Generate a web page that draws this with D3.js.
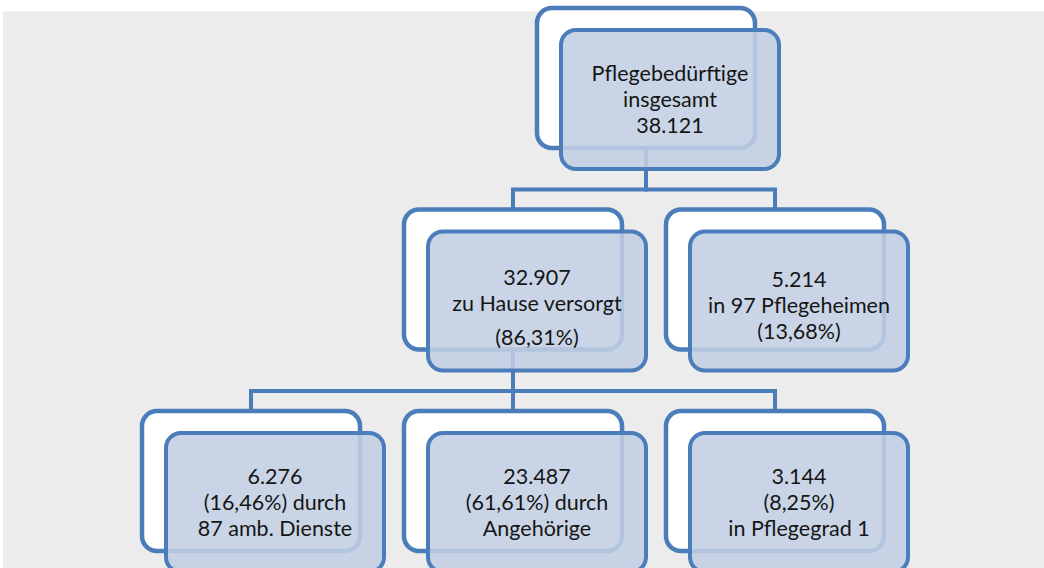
<!DOCTYPE html>
<html>
<head>
<meta charset="utf-8">
<script src="https://cdn.jsdelivr.net/npm/d3@7"></script>
<style>
  html, body { margin: 0; padding: 0; background: #ffffff; }
  svg { display: block; }
</style>
</head>
<body>
<svg id="chart" width="1044" height="568"></svg>
<script>
// Pflegebedürftige: totals and breakdown by type of care
const nodeIds   = ["gesamt", "zuhause", "heime", "amb", "angeh", "pg1"];
const parentIds = [null, "gesamt", "gesamt", "zuhause", "zuhause", "zuhause"];
const values    = [38121, 32907, 5214, 6276, 23487, 3144];
const shares    = [null, 86.31, 13.68, 16.46, 61.61, 8.25];
const labelLines = [
  ["Pflegebedürftige", "insgesamt", "38.121"],
  ["32.907", "zu Hause versorgt", "(86,31%)"],
  ["5.214", "in 97 Pflegeheimen", "(13,68%)"],
  ["6.276", "(16,46%) durch", "87 amb. Dienste"],
  ["23.487", "(61,61%) durch", "Angehörige"],
  ["3.144", "(8,25%)", "in Pflegegrad 1"]
];

const rows = nodeIds.map((id, i) => ({
  id, parent: parentIds[i], value: values[i], share: shares[i], lines: labelLines[i]
}));

const svg = d3.select("#chart");
const W = 1044, H = 568;

// page background
svg.append("rect").attr("x", 0).attr("y", 0).attr("width", W).attr("height", H).attr("fill", "#ffffff");
svg.append("rect").attr("x", 3).attr("y", 11).attr("width", W - 3).attr("height", H - 11).attr("fill", "#ececec");
svg.append("line").attr("x1", 3).attr("x2", W).attr("y1", 11.5).attr("y2", 11.5)
  .attr("stroke", "#f4f4f4").attr("stroke-width", 1);

const root = d3.stratify().id(d => d.id).parentId(d => d.parent)(rows);

// tidy tree with uniform sibling spacing
const colStep = 262;
d3.tree().nodeSize([colStep, 1]).separation(() => 1)(root);

const boxW = 218, boxH = 140, radius = 15;
const offX = 24, offY = 22;
const stroke = "#4a7dba";

const minX = d3.min(root.descendants(), d => d.x);
const xPos = d3.scaleLinear().domain([minX, minX + colStep]).range([251, 251 + colStep]);
const yPos = d3.scaleLinear().domain([0, 2]).range([8, 411]);

const nodes = root.descendants();
nodes.forEach(n => { n.cx = xPos(n.x) + (n.depth === 0 ? 2 : 0); n.top = yPos(n.depth); });

// back cards (white)
svg.append("g").selectAll("rect").data(nodes).join("rect")
  .attr("x", d => d.cx - boxW / 2)
  .attr("y", d => d.top)
  .attr("width", boxW).attr("height", boxH)
  .attr("rx", radius).attr("ry", radius)
  .attr("fill", "#ffffff")
  .attr("stroke", stroke).attr("stroke-width", 4.5);

// elbow connectors from parent card to each child card
svg.append("g").selectAll("path").data(root.links()).join("path")
  .attr("d", l => {
    const midY = l.target.top - 20;
    return `M${l.source.cx},${l.source.top + boxH}V${midY}H${l.target.cx}V${l.target.top}`;
  })
  .attr("fill", "none")
  .attr("stroke", stroke).attr("stroke-width", 4);

// front cards (translucent light blue)
svg.append("g").selectAll("rect").data(nodes).join("rect")
  .attr("x", d => d.cx - boxW / 2 + offX)
  .attr("y", d => d.top + offY)
  .attr("width", boxW).attr("height", boxH - 1)
  .attr("rx", radius).attr("ry", radius)
  .attr("fill", "rgb(194,207,226)").attr("fill-opacity", 0.88)
  .attr("stroke", stroke).attr("stroke-width", 4);

// card labels
const lineH = 26;
const lineShift = { zuhause: [2, 2, 10], heime: [4, 4, 4] };
const labels = svg.append("g")
  .attr("font-family", "Lato, 'Open Sans', sans-serif")
  .attr("font-size", 21.5)
  .attr("fill", "#151515")
  .attr("text-anchor", "middle");

nodes.forEach(n => {
  const cx = n.cx + offX;
  const cy = n.top + offY + boxH / 2;
  const shift = lineShift[n.id] || [0, 0, 0];
  n.data.lines.forEach((t, i) => {
    labels.append("text")
      .attr("x", cx)
      .attr("y", cy + 7 + (i - 1) * lineH + shift[i])
      .text(t);
  });
});
</script>
</body>
</html>
